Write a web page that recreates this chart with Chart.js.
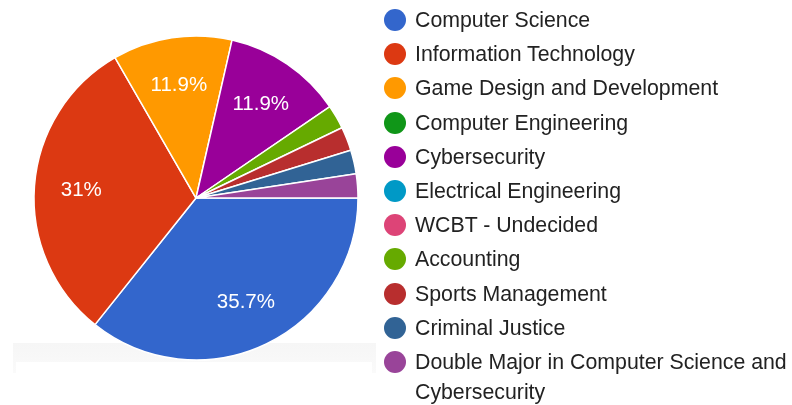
<!DOCTYPE html>
<html>
<head>
<meta charset="utf-8">
<script src="https://cdn.jsdelivr.net/npm/chart.js@4.4.0/dist/chart.umd.min.js"></script>
<style>
  html, body { margin: 0; padding: 0; background: #fff; }
  body { width: 792px; height: 405px; position: relative; overflow: hidden; font-family: Arial, 'Liberation Sans', sans-serif; }
  #shade { position: absolute; left: 13px; top: 343px; width: 363px; height: 30px; background: linear-gradient(#f6f6f6, #fafafa); }
  #shade div { position: absolute; left: 3px; top: 19px; width: 356px; height: 11px; background: #fff; }
  #wrap { position: absolute; left: 0; top: 0; width: 392px; height: 396px; }
  #legend { position: absolute; left: 384px; top: 3px; width: 408px; }
  .item { display: flex; align-items: flex-start; padding: 2.1px 0; line-height: 30px; font-size: 21.3px; color: #222; }
  .dot { flex: none; width: 22px; height: 22px; border-radius: 50%; margin-top: 4px; }
  .txt { margin-left: 9px; width: 377px; }
</style>
</head>
<body>
<div id="shade"><div></div></div>
<div id="wrap"><canvas id="pie"></canvas></div>
<div id="legend"></div>
<script>
'use strict';

// answers, in legend order
const majors = [
  'Computer Science',
  'Information Technology',
  'Game Design and Development',
  'Computer Engineering',
  'Cybersecurity',
  'Electrical Engineering',
  'WCBT - Undecided',
  'Accounting',
  'Sports Management',
  'Criminal Justice',
  'Double Major in Computer Science and Cybersecurity',
];
const counts = [15, 13, 5, 0, 5, 0, 0, 1, 1, 1, 1];
const colors = ['#3366cc', '#dc3912', '#ff9900', '#109618', '#990099', '#0099c6',
  '#dd4477', '#66aa00', '#b82e2e', '#316395', '#994499'];

// legend
const legend = document.getElementById('legend');
majors.forEach((m, i) => {
  const row = document.createElement('div');
  row.className = 'item';
  row.innerHTML = `<span class="dot" style="background:${colors[i]}"></span><span class="txt">${m}</span>`;
  legend.appendChild(row);
});

// slices go biggest first, like google forms
const order = majors.map((m, i) => i).filter(i => counts[i] > 0)
  .sort((a, b) => counts[b] - counts[a]);
const total = counts.reduce((a, b) => a + b, 0);

function pctText(v) {
  let p = Math.round(v / total * 1000) / 10;
  return p + '%';
}

// white percent labels inside the big slices
const pctLabels = {
  id: 'pctLabels',
  afterDatasetsDraw(chart) {
    const ctx = chart.ctx;
    const meta = chart.getDatasetMeta(0);
    const data = chart.data.datasets[0].data;
    ctx.save();
    ctx.fillStyle = '#fff';
    ctx.font = '20.5px Arial, "Liberation Sans", sans-serif';
    ctx.textAlign = 'center';
    ctx.textBaseline = 'middle';
    meta.data.forEach((arc, i) => {
      if (data[i] / total < 0.05) return;
      const a = (arc.startAngle + arc.endAngle) / 2;
      const d = arc.outerRadius * 0.71;
      ctx.fillText(pctText(data[i]), arc.x + Math.cos(a) * d, arc.y + Math.sin(a) * d + 1);
    });
    ctx.restore();
  },
};

// eslint-disable-next-line no-new,no-undef
new Chart(document.getElementById('pie'), {
  type: 'pie',
  data: {
    labels: order.map(i => majors[i]),
    datasets: [
      {
        data: order.map(i => counts[i]),
        backgroundColor: order.map(i => colors[i]),
        borderColor: '#fff',
        borderWidth: 1.5,
        hoverOffset: 0,
        radius: 162,
      },
    ],
  },
  options: {
    responsive: true,
    maintainAspectRatio: false,
    animation: false,
    rotation: 90,
    layout: { padding: 0 },
    plugins: {
      legend: { display: false },
      tooltip: { enabled: false },
    },
  },
  plugins: [pctLabels],
});
</script>
</body>
</html>
